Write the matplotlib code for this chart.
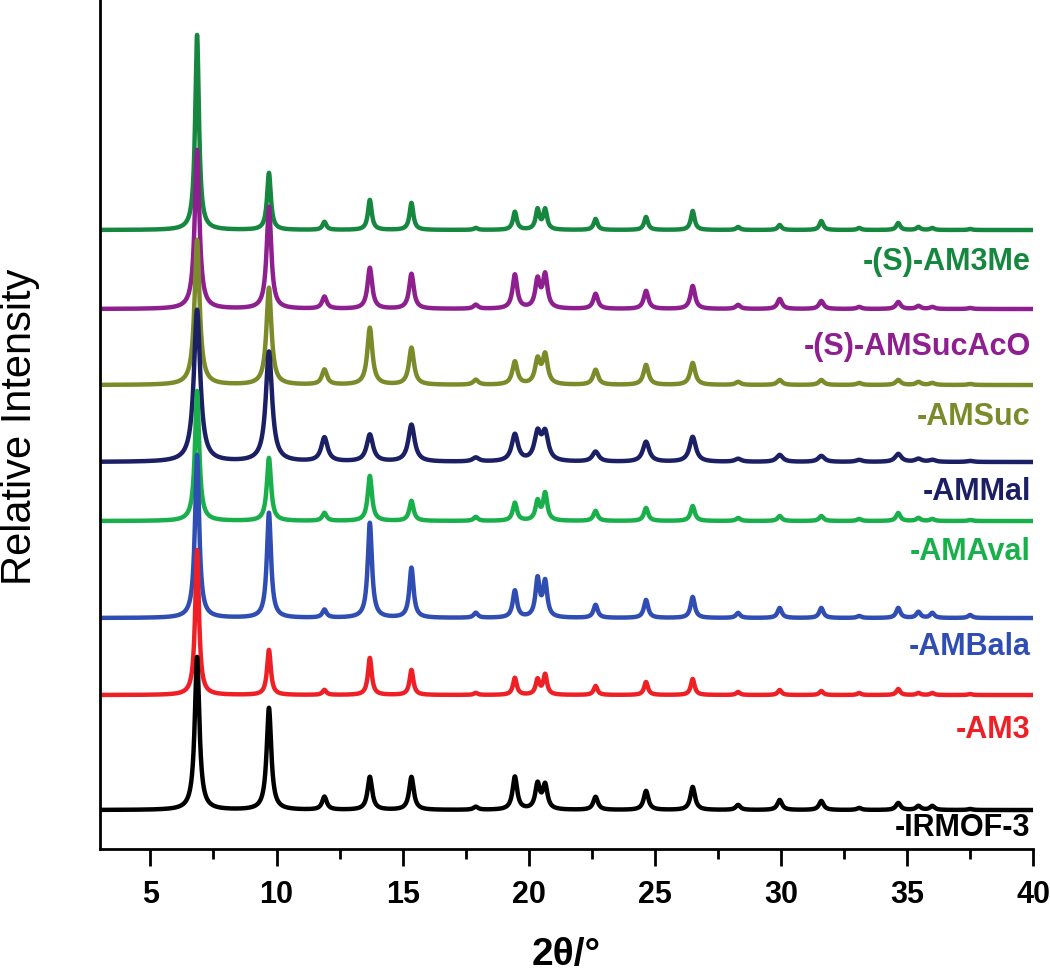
import numpy as np
import matplotlib
matplotlib.use('Agg')
import matplotlib.pyplot as plt
from matplotlib.ticker import MultipleLocator

plt.rcParams['font.family'] = ['Liberation Sans', 'DejaVu Sans']

# peak positions (2theta, degrees) shared by all patterns
peak_pos = [6.85, 9.7, 11.9, 13.7, 15.35, 17.9, 19.45, 20.35, 20.65, 22.65,
            24.65, 26.5, 28.3, 29.95, 31.6, 33.1, 34.65, 35.45, 36.0, 37.5]

# sample names, top to bottom
samples = ['-(S)-AM3Me', '-(S)-AMSucAcO', '-AMSuc', '-AMMal',
           '-AMAval', '-AMBala', '-AM3', '-IRMOF-3']
colors = ['#16873f', '#8e1f8e', '#7b8b2a', '#1b1f63',
          '#19b04b', '#2f4db3', '#ee2026', '#000000']
offsets = [619, 540, 464, 387, 328, 231, 154, 39]
fwhm = [0.18, 0.22, 0.24, 0.30, 0.20, 0.20, 0.18, 0.22]

# peak heights (relative intensity) for each sample at peak_pos
h_am3me = [195, 57, 8, 30, 27, 2, 18, 20, 20, 11, 13, 19, 3, 5, 9, 2, 7, 3, 2, 1]
h_sucaco = [159, 102, 12, 41, 35, 4, 34, 28, 33, 15, 18, 23, 4, 10, 8, 2, 7, 3, 2, 1]
h_suc = [145, 97, 15, 57, 37, 5, 23, 24, 29, 15, 20, 22, 3, 5, 5, 2, 5, 3, 2, 1]
h_mal = [152, 110, 24, 27, 37, 4, 27, 27, 27, 10, 20, 25, 3, 7, 6, 2, 8, 3, 2, 1]
h_aval = [130, 63, 8, 45, 20, 4, 18, 19, 27, 10, 13, 15, 3, 5, 5, 2, 8, 3, 2, 1]
h_bala = [163, 105, 8, 95, 50, 5, 27, 38, 35, 13, 18, 21, 5, 10, 10, 2, 10, 6, 5, 3]
h_am3 = [145, 45, 5, 37, 25, 2, 17, 15, 20, 9, 13, 16, 3, 5, 4, 2, 6, 2, 2, 1]
h_irmof = [153, 102, 13, 33, 33, 3, 33, 25, 24, 13, 19, 23, 5, 10, 9, 2, 7, 4, 4, 1]
heights = [h_am3me, h_sucaco, h_suc, h_mal, h_aval, h_bala, h_am3, h_irmof]

# label positions (y) next to each pattern
label_y = [587, 502, 432, 357, 297, 202, 119, 21]

tth = np.linspace(3, 40, 3701)


def pattern(heights_, width):
    y = np.zeros_like(tth)
    g = width / 2
    for p, h in zip(peak_pos, heights_):
        y += h * g**2 / ((tth - p)**2 + g**2)
    return y


fig = plt.figure(figsize=(10.5, 9.72), dpi=100)
ax = fig.add_axes([0.0952, 0.1265, 0.8888, 0.8735])

for name, c, off, w, hs, ly in zip(samples, colors, offsets, fwhm, heights, label_y):
    ax.plot(tth, off + pattern(hs, w), color=c, lw=3.2)
    ax.text(39.9, ly, name, color=c, fontsize=22, fontweight='bold',
            ha='right', va='center')

ax.set_xlim(3, 40)
ax.set_ylim(0, 849)
ax.spines['top'].set_visible(False)
ax.spines['right'].set_visible(False)
ax.spines['left'].set_linewidth(2)
ax.spines['bottom'].set_linewidth(2)
ax.set_yticks([])
ax.xaxis.set_major_locator(MultipleLocator(5))
ax.xaxis.set_minor_locator(MultipleLocator(2.5))
ax.tick_params(axis='x', which='major', length=12, width=2, direction='out',
               labelsize=22, pad=10)
ax.tick_params(axis='x', which='minor', length=7, width=2, direction='out')
for lab in ax.get_xticklabels():
    lab.set_fontweight('bold')

ax.set_xlabel('2θ/°', fontsize=28, fontweight='bold', labelpad=20)
fig.text(0.019, 0.561, 'Relative Intensity', rotation=90, fontsize=30,
         ha='center', va='center')

plt.savefig('out.png', dpi=100)
